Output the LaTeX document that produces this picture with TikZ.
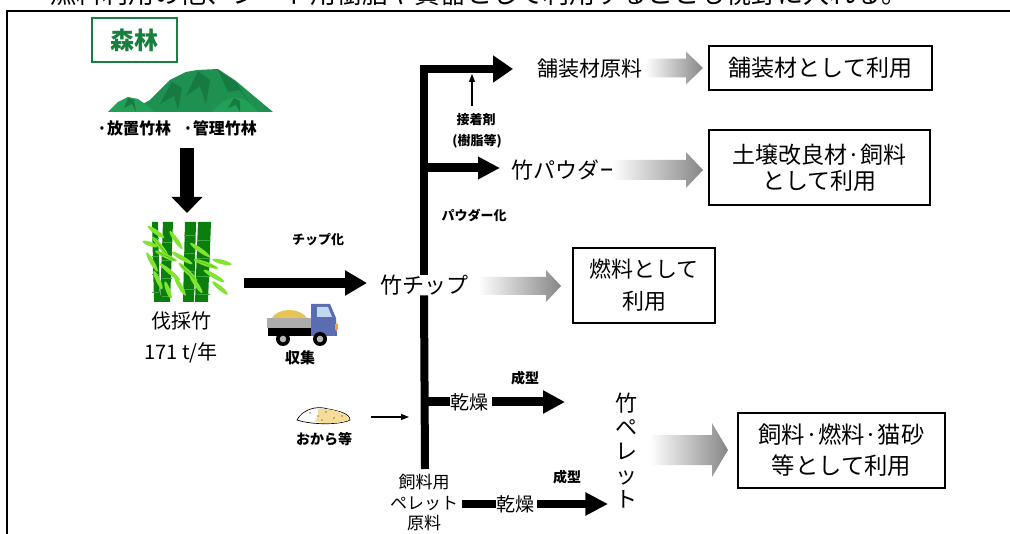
\documentclass[tikz,border=0pt]{standalone}
\usepackage{fontspec}
\setmainfont{Noto Sans CJK JP}
\usetikzlibrary{arrows.meta,calc}
\definecolor{forest}{HTML}{17803F}
\definecolor{mtn}{HTML}{1E9150}
\definecolor{mtndark}{HTML}{167A42}
\definecolor{mtnlight}{HTML}{23A057}
\definecolor{stalk}{HTML}{0B7F0B}
\definecolor{stalkring}{HTML}{3FA63F}
\definecolor{leaf}{HTML}{80E52C}
\definecolor{leafdark}{HTML}{4FB81C}
\definecolor{arrowgray}{HTML}{868686}
\definecolor{truckblue}{HTML}{5A6CB2}
\definecolor{truckwin}{HTML}{BFD8EE}
\definecolor{cargo}{HTML}{E8C455}
\definecolor{okara}{HTML}{F6DC98}

% gray arrow fading in from the left: start, tip, shaft half-height, head half-height, head length
\newcommand\shadedarrow[5]{%
  \path[left color=white, right color=arrowgray] let \p1=(#1), \p2=(#2) in
    (\x1,\y1+#3) -- (\x2-#5,\y1+#3) -- (\x2-#5,\y1+#4) -- (\x2,\y1)
    -- (\x2-#5,\y1-#4) -- (\x2-#5,\y1-#3) -- (\x1,\y1-#3) -- cycle;}

\begin{document}
\begin{tikzpicture}[x=0.75pt,y=-0.75pt,
  every node/.style={inner sep=0pt},
  usebox/.style={draw=black, line width=1.1pt, align=center},
  tag/.style={font=\bfseries\fontsize{9.75pt}{11.5pt}\selectfont, align=center},
  trunk/.style={line width=6pt, line join=miter},
  fat/.style={line width=6.75pt, -{Triangle[length=16.5pt,width=16.5pt]}},
  thinarrow/.style={line width=0.8pt, -{Triangle[length=6pt,width=4.5pt]}}]

\useasboundingbox (0,0) rectangle (1010,534);
\clip (0,0) rectangle (1010,534);

% heading line above the frame
\node[anchor=base west, font=\fontsize{19.5pt}{22pt}\selectfont] (head) at (50,4)
  {燃料利用の他、シート用樹脂や資器として利用することも視野に入れる。};

% frame
\draw[line width=1.9pt] (1012,11) -- (7,11) -- (7,540);

% forest label
\node[draw=forest, line width=1.1pt, minimum width=63.75pt, minimum height=33pt,
      text=forest, font=\bfseries\fontsize{18pt}{20pt}\selectfont] (forest) at (134.5,40) {森林};

% mountain
\fill[mtn] (128,112) -- (150,100) -- (170,80) -- (186,72) -- (197,70) -- (218,69)
  -- (236,81) -- (255,97) -- (273,112) -- cycle;
\fill[mtndark] (198,71) -- (186,96) -- (200,86) -- (206,104) -- (210,80) -- cycle;
\fill[mtndark] (218,70) -- (228,92) -- (240,90) -- (250,104) -- (236,82) -- cycle;
\fill[mtndark] (172,82) -- (160,104) -- (174,96) -- (178,110) -- (182,88) -- cycle;
\fill[mtnlight] (108,112) -- (118,102) -- (128,97) -- (138,99) -- (148,106) -- (154,112) -- cycle;
\fill[mtndark] (128,98) -- (124,108) -- (132,104) -- (136,112) -- (134,100) -- cycle;
\fill[mtnlight] (212,112) -- (222,102) -- (234,97) -- (246,100) -- (258,112) -- cycle;
\fill[mtndark] (234,98) -- (228,108) -- (236,105) -- (240,112) -- (240,101) -- cycle;

\node[font=\bfseries\fontsize{12pt}{14pt}\selectfont] (bamboolabel) at (177,128)
  {·放置竹林\hspace{9pt}·管理竹林};

% cut bamboo
\fill[stalk] (152,222) -- (158,222) -- (160,302) -- (154,302) -- cycle;
\fill[stalk] (163,222) -- (173,222) -- (170,302) -- (160,302) -- cycle;
\fill[stalk] (185,222) -- (196,222) -- (194,302) -- (183,302) -- cycle;
\fill[stalk] (198,222) -- (211,222) -- (208,302) -- (195,302) -- cycle;
\foreach \yy in {238,256,274,292}{
  \draw[stalkring, line width=0.6pt] (152,\yy) -- (159,\yy);
  \draw[stalkring, line width=0.6pt] (162,\yy+4) -- (172,\yy+4);
  \draw[stalkring, line width=0.6pt] (184,\yy-3) -- (195,\yy-3);
  \draw[stalkring, line width=0.6pt] (197,\yy+2) -- (210,\yy+2);
}
\foreach \lx/\ly/\ang/\len in {
  156/232/-35/10, 160/246/-50/12, 152/262/-60/11, 166/256/-25/12, 158/280/-65/10,
  170/272/-40/13, 176/240/-55/11, 182/258/-30/12, 188/272/-45/13, 180/286/-60/11,
  200/250/-35/12, 206/264/-20/13, 214/276/-30/12, 220/288/-40/10, 222/262/-15/10,
  196/284/-55/11, 168/290/-70/9, 150/244/-20/8}{
  \fill[leaf, rotate around={\ang:(\lx,\ly)}] (\lx,\ly) ellipse ({\len} and 2.2);
}
\foreach \lx/\ly/\ang in {166/256/-25, 188/272/-45, 206/264/-20, 160/246/-50}{
  \draw[leafdark, line width=0.4pt, rotate around={\ang:(\lx,\ly)}] (\lx-10,\ly) -- (\lx+10,\ly);
}

\node[font=\fontsize{15pt}{17pt}\selectfont] (cut) at (181,321) {伐採竹};
\node[font=\fontsize{15pt}{17pt}\selectfont] (amount) at (181,353) {171 t/年};

% truck
\fill[cargo] (271,319) .. controls (278,307) and (300,307) .. (308,319) -- cycle;
\fill[gray!65] (267,318) rectangle (311,328);
\fill[black] (268,328) rectangle (336,336);
\fill[truckblue] (311,304) -- (330,304) -- (336,318) -- (337,336) -- (311,336) -- cycle;
\fill[truckwin] (317,307) -- (328,307) -- (332,317) -- (317,317) -- cycle;
\fill[orange!80] (335,324) rectangle (338,330);
\foreach \wx in {283,320}{
  \fill[black] (\wx,339) circle (7);
  \fill[gray!55] (\wx,339) circle (3.3);
}
\node[font=\bfseries\fontsize{11.25pt}{13pt}\selectfont] (collect) at (300,358) {収集};

\node[tag] (chipping) at (318,240) {チップ化};

% main flow into chips
\coordinate (forestout) at (187,148);
\coordinate (bamboin) at (187,213);
\draw[line width=10pt, -{Triangle[length=12pt,width=22.5pt]}] (forestout) -- (bamboin);
\coordinate (cutout) at (244,283);
\coordinate (chipin) at (367,283);
\draw[line width=7.5pt, -{Triangle[length=16.5pt,width=18pt]}] (cutout) -- (chipin);

\node[font=\fontsize{16.5pt}{18pt}\selectfont] (chip) at (424,285) {竹チップ};

% upper trunk and its branches
\coordinate (pavetip) at (513,69);
\draw[trunk, -{Triangle[length=15pt,width=19.5pt]}] (chip.north) |- (pavetip);
\coordinate (powstart) at (425,168);
\coordinate (powtip) at (500,168);
\draw[line width=6.75pt, -{Triangle[length=16.5pt,width=16pt]}] (powstart) -- (powtip);

\node[font=\fontsize{15.75pt}{17pt}\selectfont] (pave) at (590,69) {舗装材原料};
\node[font=\fontsize{16.5pt}{18pt}\selectfont] (powder) at (566,170) {竹パウダー};

\node[tag] (glue) at (476,120) {接着剤};
\node[tag] (resin) at (477,141) {(樹脂等)};
\coordinate (gluetop) at (472,74);
\draw[thinarrow] (472,106) -- (gluetop);
\node[tag] (powdering) at (474,215) {パウダー化};

% lower trunk
\coordinate (trunkend) at (425,469);
\draw[trunk] (chip.south) -- (trunkend);

\node[font=\fontsize{14.25pt}{16pt}\selectfont] (dry1) at (469,402) {乾燥};
\draw[line width=6.75pt] (425,402) -- (dry1.west);
\coordinate (pel1tip) at (565,402);
\draw[fat] (dry1.east) ++(4,0) -- (pel1tip);
\node[tag, font=\bfseries\fontsize{10.5pt}{12pt}\selectfont] (form1) at (525,378) {成型};

\node[font=\fontsize{12.75pt}{15.4pt}\selectfont, align=center] (feedraw) at (424,503)
  {飼料用\\ペレット\\原料};
\node[font=\fontsize{14.25pt}{16pt}\selectfont] (dry2) at (515,504) {乾燥};
\draw[line width=6pt] (462,504) -- (dry2.west);
\coordinate (pel2tip) at (608,504);
\draw[line width=6pt, -{Triangle[length=17pt,width=16.5pt]}] (dry2.east) ++(3,0) -- (pel2tip);
\node[tag, font=\bfseries\fontsize{10.5pt}{12pt}\selectfont] (form2) at (567,477) {成型};

% okara
\filldraw[fill=white, draw=black, line width=0.5pt]
  (297,420) .. controls (302,410) and (316,405) .. (328,409)
  .. controls (340,411) and (350,414) .. (350,420)
  .. controls (340,425) and (312,425) .. (297,420) -- cycle;
\fill[okara] (318,409) .. controls (332,408) and (348,413) .. (349,420)
  .. controls (338,424) and (322,424) .. (314,421) .. controls (320,418) and (318,413) .. (318,409) -- cycle;
\foreach \dx/\dy in {310/413,318/416,326/412,334/418,342/416,322/420}{
  \fill[black] (\dx,\dy) circle (0.7);
}
\node[font=\bfseries\fontsize{10.5pt}{12pt}\selectfont] (okaralabel) at (324,439) {おから等};
\coordinate (okaraout) at (371,417);
\coordinate (okarain) at (409,417);
\draw[thinarrow] (okaraout) -- (okarain);

% bamboo pellets, written top to bottom
\node[font=\fontsize{16.5pt}{18pt}\selectfont, align=center] (pellet) at (626,451)
  {竹\\ペ\\レ\\ッ\\ト};

% use boxes
\node[usebox, minimum width=167.25pt, minimum height=33pt,
      font=\fontsize{17.25pt}{19pt}\selectfont] (box1) at (820.5,68) {舗装材として利用};
\node[usebox, minimum width=165.75pt, minimum height=56.25pt,
      font=\fontsize{17.25pt}{19.5pt}\selectfont] (box2) at (819.5,167.5) {土壌改良材·飼料\\として利用};
\node[usebox, minimum width=106.5pt, minimum height=56.25pt,
      font=\fontsize{16.5pt}{24pt}\selectfont] (box3) at (644,285.5) {燃料として\\利用};
\node[usebox, minimum width=155.25pt, minimum height=56.25pt,
      font=\fontsize{17.5pt}{23.25pt}\selectfont] (box4) at (841.5,450.5) {飼料·燃料·猫砂\\等として利用};

% shaded arrows towards the uses
\coordinate (ga1s) at (645,68);   \coordinate (ga1t) at (703,68);
\coordinate (ga2s) at (612,170);  \coordinate (ga2t) at (703,170);
\coordinate (ga3s) at (478,286);  \coordinate (ga3t) at (561,286);
\coordinate (ga4s) at (650,450);  \coordinate (ga4t) at (728,450);
\shadedarrow{ga1s}{ga1t}{7.1pt}{12.4pt}{12.75pt}
\shadedarrow{ga2s}{ga2t}{7.5pt}{13.5pt}{12.75pt}
\shadedarrow{ga3s}{ga3t}{6.75pt}{12pt}{11.25pt}
\shadedarrow{ga4s}{ga4t}{11.25pt}{20.25pt}{12pt}

\end{tikzpicture}
\end{document}
